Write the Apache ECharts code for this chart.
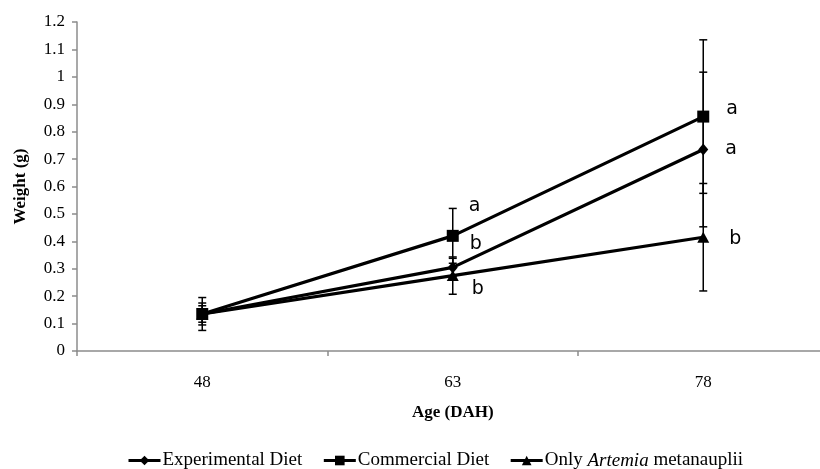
<!DOCTYPE html>
<html><head><meta charset="utf-8">
<script src="https://cdn.jsdelivr.net/npm/echarts@6/dist/echarts.min.js"></script>
<style>html,body{margin:0;padding:0;background:#fff}#c{width:820px;height:469px}</style>
</head><body><div id="c"></div>
<script>
const categories = ['48', '63', '78'];
const seriesNames = ['Experimental Diet', 'Commercial Diet', 'Only Artemia metanauplii'];
const experimental = [0.135, 0.305, 0.735];
const commercial = [0.135, 0.42, 0.855];
const artemia = [0.135, 0.275, 0.415];
const experimentalErr = [0.04, 0.033, 0.282];
const commercialErr = [0.06, 0.10, 0.28];
const artemiaErr = [0.03, 0.068, 0.196];
const experimentalLetters = ['', 'b', 'a'];
const commercialLetters = ['', 'a', 'a'];
const artemiaLetters = ['', 'b', 'b'];
const yTicks = ['0','0.1','0.2','0.3','0.4','0.5','0.6','0.7','0.8','0.9','1','1.1','1.2'];

const letterOffsets = {
  exp: [null, [-4, -23], [1, 0]],
  com: [null, [-6, -30], [1, -8]],
  art: [null, [-3, 13], [4, 2]]
};
const letterFont = {fontFamily: 'DejaVu Sans', fontSize: 19, color: '#000'};

function buildData(vals, letters, offs) {
  return vals.map((v, i) => {
    if (!letters[i]) return v;
    return {value: v, label: Object.assign({show: true, formatter: letters[i], position: 'right', distance: 16, offset: offs[i]}, letterFont)};
  });
}
function errData(vals, errs) {
  return vals.map((v, i) => [i, v - errs[i], v + errs[i]]);
}
function renderErr(params, api) {
  const lo = api.coord([api.value(0), api.value(1)]);
  const hi = api.coord([api.value(0), api.value(2)]);
  const w = 4;
  const st = {stroke: '#000', lineWidth: 1.5};
  return {type: 'group', children: [
    {type: 'line', shape: {x1: lo[0], y1: lo[1], x2: hi[0], y2: hi[1]}, style: st},
    {type: 'line', shape: {x1: lo[0]-w, y1: lo[1], x2: lo[0]+w, y2: lo[1]}, style: st},
    {type: 'line', shape: {x1: hi[0]-w, y1: hi[1], x2: hi[0]+w, y2: hi[1]}, style: st}
  ]};
}
const lineBase = {type: 'line', color: '#000', lineStyle: {color: '#000', width: 3.2}, itemStyle: {color: '#000'}, showAllSymbol: true, z: 3};

const chart = echarts.init(document.getElementById('c'), null, {renderer: 'canvas'});
chart.setOption({
  animation: false,
  textStyle: {fontFamily: 'Liberation Serif'},
  grid: {left: 77, right: -8.5, top: 22, bottom: 118, containLabel: false, outerBoundsMode: 'none'},
  xAxis: {
    type: 'category', data: categories, boundaryGap: true,
    name: 'Age (DAH)', nameLocation: 'middle', nameGap: 53,
    nameTextStyle: {fontFamily: 'Liberation Serif', fontWeight: 'bold', fontSize: 17, color: '#000'},
    axisLine: {lineStyle: {color: '#8c8c8c', width: 1.5}},
    axisTick: {show: true, length: 5, lineStyle: {color: '#8c8c8c', width: 1.5}},
    axisLabel: {color: '#000', fontSize: 17, margin: 23, fontFamily: 'Liberation Serif'}
  },
  yAxis: {
    type: 'value', min: 0, max: 1.2, interval: 0.1,
    name: 'Weight (g)', nameLocation: 'middle', nameGap: 48, nameRotate: 90,
    nameTextStyle: {fontFamily: 'Liberation Serif', fontWeight: 'bold', fontSize: 17, color: '#000'},
    splitLine: {show: false},
    axisLine: {show: true, lineStyle: {color: '#8c8c8c', width: 1.5}},
    axisTick: {show: true, length: 5, lineStyle: {color: '#8c8c8c', width: 1.5}},
    axisLabel: {color: '#000', fontSize: 17, margin: 12, fontFamily: 'Liberation Serif',
      formatter: (v) => yTicks[Math.round(v * 10)]}
  },
  legend: {
    top: 446, left: 122, itemWidth: 32, itemHeight: 12, itemGap: 20,
    lineStyle: {width: 3, color: '#000'},
    textStyle: {fontFamily: 'Liberation Serif', fontSize: 19, color: '#000', padding: [0,0,0,-3],
      rich: {n: {fontFamily: 'Liberation Serif', fontSize: 19, color: '#000'},
             i: {fontFamily: 'Liberation Serif', fontSize: 19, fontStyle: 'italic', color: '#000'}}},
    formatter: (name) => name === seriesNames[2] ? '{n|Only }{i|Artemia}{n| metanauplii}' : name,
    data: seriesNames
  },
  series: [
    Object.assign({}, lineBase, {name: seriesNames[0], symbol: 'diamond', symbolSize: [10, 12],
      data: buildData(experimental, experimentalLetters, letterOffsets.exp)}),
    Object.assign({}, lineBase, {name: seriesNames[1], symbol: 'rect', symbolSize: 12,
      data: buildData(commercial, commercialLetters, letterOffsets.com)}),
    Object.assign({}, lineBase, {name: seriesNames[2], symbol: 'triangle', symbolSize: [12, 11],
      data: buildData(artemia, artemiaLetters, letterOffsets.art)}),
    {type: 'custom', renderItem: renderErr, data: errData(experimental, experimentalErr), z: 4, silent: true},
    {type: 'custom', renderItem: renderErr, data: errData(commercial, commercialErr), z: 4, silent: true},
    {type: 'custom', renderItem: renderErr, data: errData(artemia, artemiaErr), z: 4, silent: true}
  ]
});
</script></body></html>
